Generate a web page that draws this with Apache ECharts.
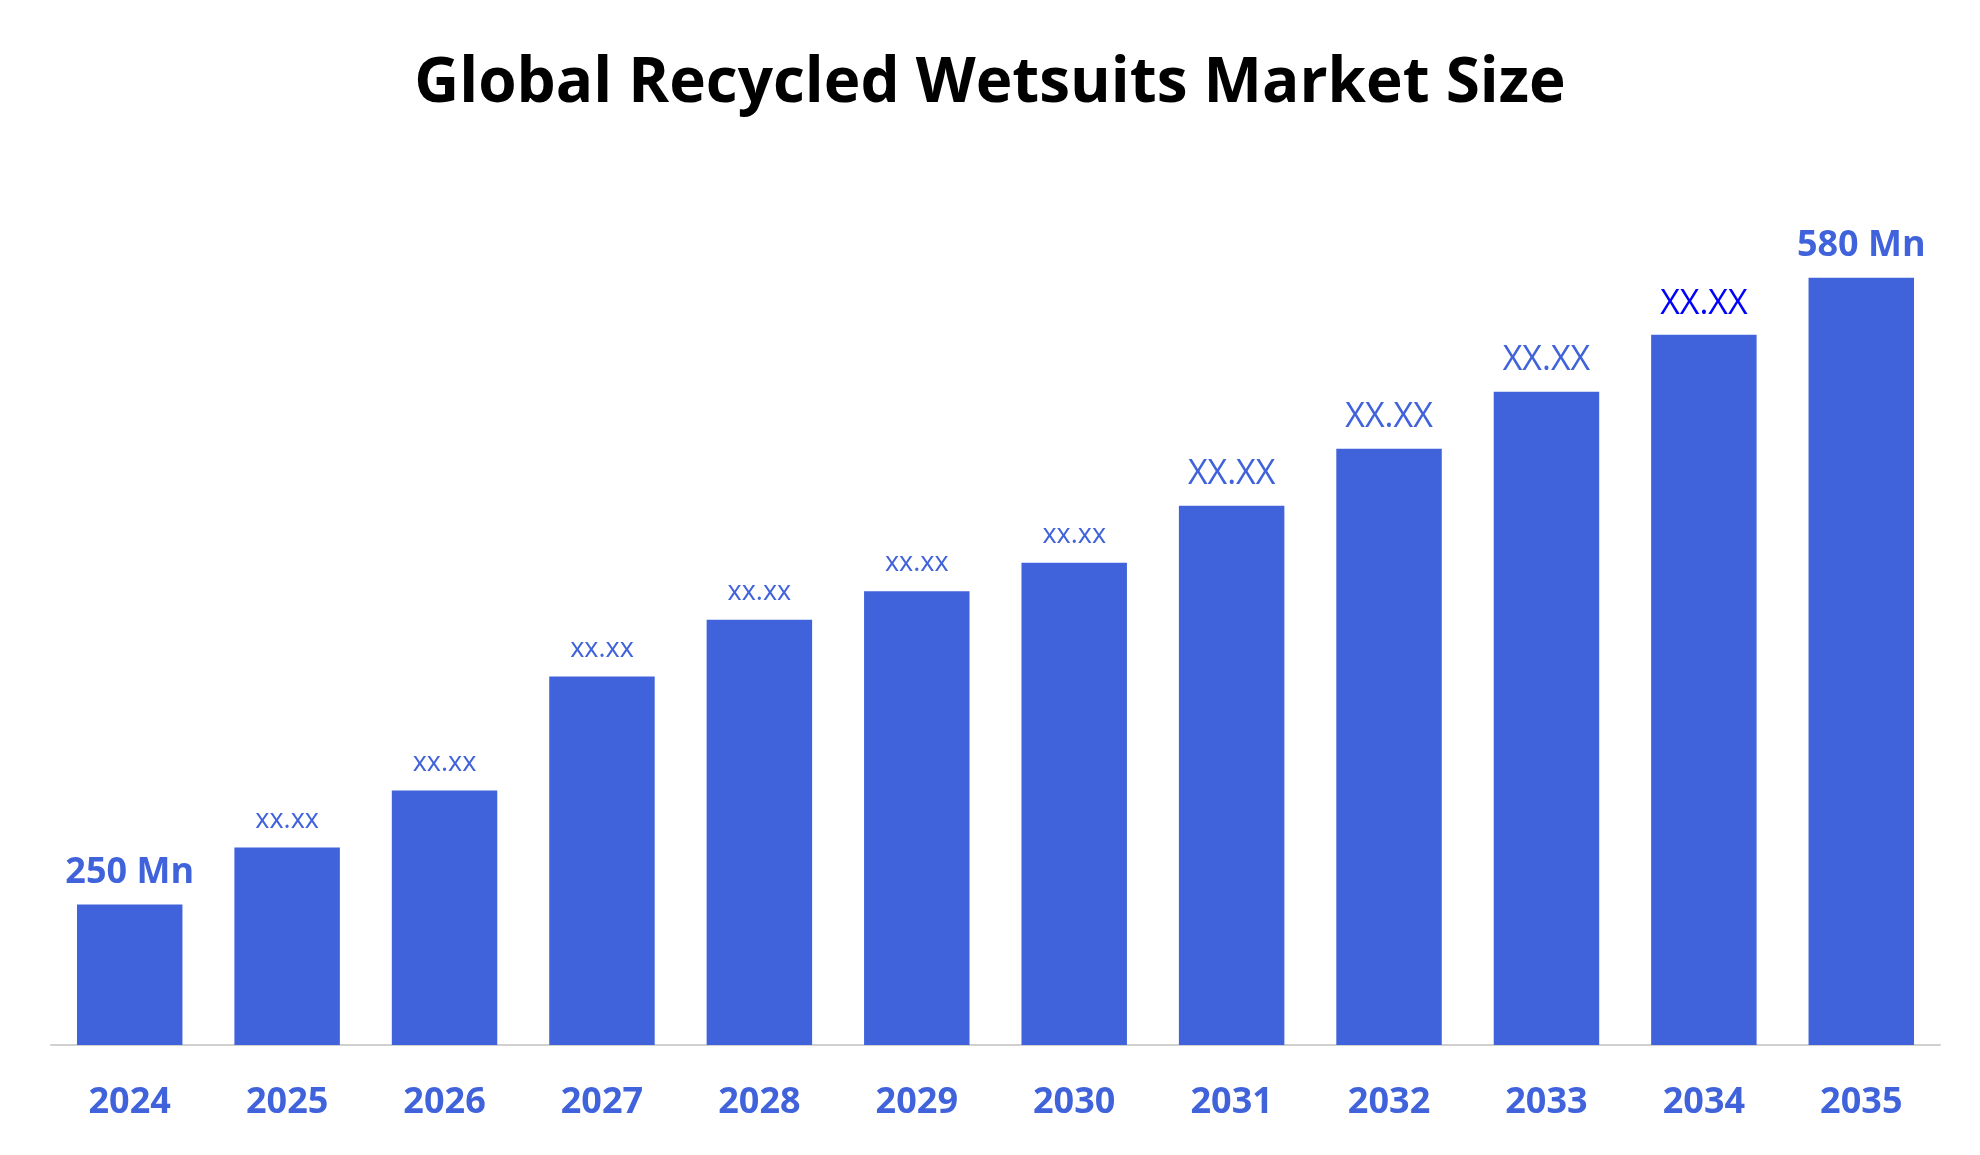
<!doctype html>
<html>
<head>
<meta charset="utf-8">
<script src="https://cdn.jsdelivr.net/npm/echarts@6/dist/echarts.min.js"></script>
<style>
  html, body, #main { margin: 0; width: 100%; height: 100%; background: #fff; }
</style>
</head>
<body>
<div id="main"></div>
<script>
  var years = ['2024', '2025', '2026', '2027', '2028', '2029', '2030', '2031', '2032', '2033', '2034', '2035'];
  var values = [250, 280, 310, 370, 400, 415, 430, 460, 490, 520, 550, 580];
  var labels = ['250 Mn', 'xx.xx', 'xx.xx', 'xx.xx', 'xx.xx', 'xx.xx', 'xx.xx', 'XX.XX', 'XX.XX', 'XX.XX', 'XX.XX', '580 Mn'];
  var labelSizes = [36, 27, 27, 27, 27, 27, 27, 34, 34, 34, 34, 36];
  var labelColors = ['#4063DB', '#4063DB', '#4063DB', '#4063DB', '#4063DB', '#4063DB', '#4063DB', '#4063DB', '#4063DB', '#4063DB', '#0000FF', '#4063DB'];

  var chart = echarts.init(document.getElementById('main'));

  var data = values.map(function (v, i) {
    return {
      value: v,
      label: {
        formatter: labels[i],
        fontSize: labelSizes[i],
        color: labelColors[i],
        fontWeight: (i === 0 || i === 11) ? 'bold' : 'normal'
      }
    };
  });

  chart.setOption({
    title: {
      text: 'Global Recycled Wetsuits Market Size',
      left: 'center',
      top: 48,
      textStyle: { fontFamily: 'Open Sans', fontWeight: 'bold', fontSize: 62, color: '#000' }
    },
    grid: { left: 51, right: 40, top: 200, bottom: 110 },
    xAxis: {
      type: 'category',
      data: years,
      axisTick: { show: false },
      axisLine: { lineStyle: { color: '#d0d0d0', width: 2 } },
      axisLabel: { margin: 40, fontFamily: 'Open Sans', fontWeight: 'bold', fontSize: 36, color: '#4063DB' }
    },
    yAxis: { type: 'value', min: 176, max: 621, show: false, splitLine: { show: false } },
    series: [{
      type: 'bar',
      data: data,
      barCategoryGap: '33%',
      itemStyle: { color: '#4063DB' },
      label: { show: true, position: 'top', distance: 14, fontFamily: 'Open Sans' }
    }]
  });
</script>
</body>
</html>
